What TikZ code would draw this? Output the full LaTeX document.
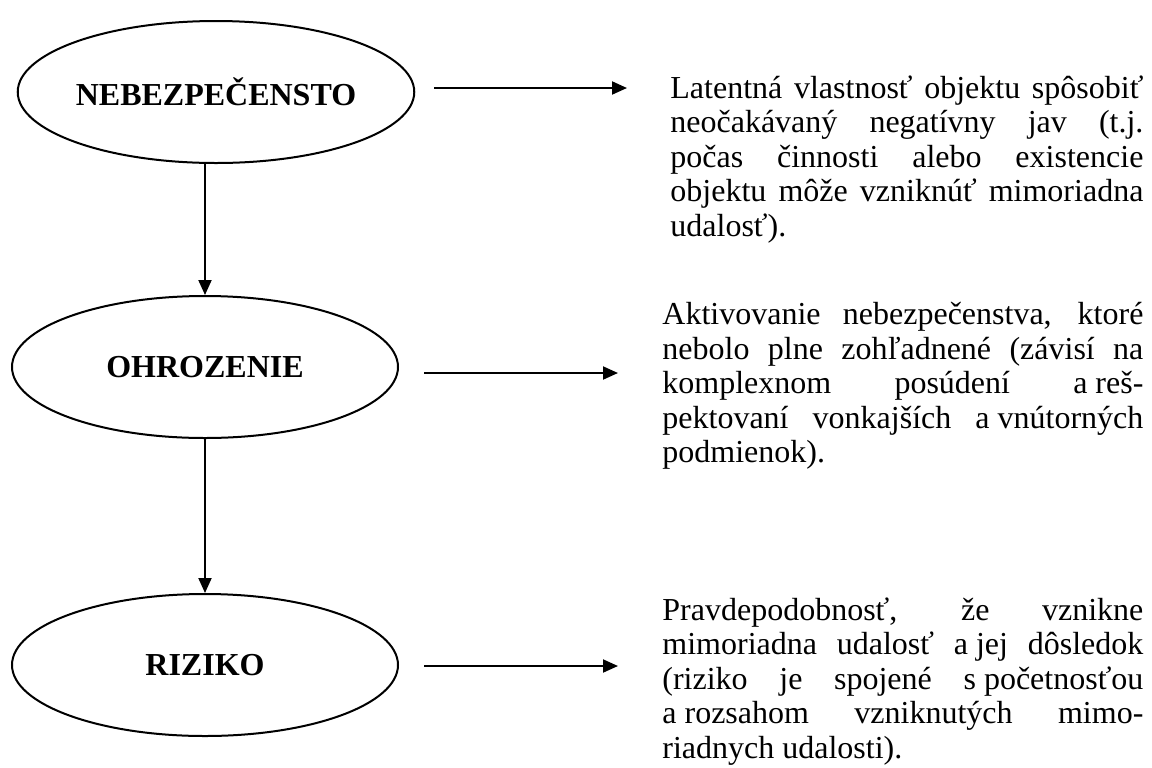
\documentclass[tikz,border=0pt]{standalone}
\usepackage{fontspec}
\setmainfont{Liberation Serif}
\usetikzlibrary{
    shapes.geometric,
    arrows.meta
}
\newcommand{\pevna}{\nobreak\hspace{.25em}}
\tolerance=10000
\hbadness=10000

\begin{document}
\begin{tikzpicture}[x=0.5pt, y=-0.5pt,
    pojem/.style={ellipse, draw, line width=1pt, minimum width=193pt, minimum height=71pt,
        inner sep=0pt, font=\fontsize{16}{17}\selectfont\bfseries},
    popis/.style={anchor=north west, inner sep=0pt, align=justify,
        font=\fontsize{16}{17.25}\selectfont},
    sipka/.style={line width=1pt, -{Triangle[length=7.5pt, width=6.5pt]}}]
                        \useasboundingbox (0,0) rectangle (1152,767);
                        \node[pojem] (neb) at (216, 92) {NEBEZPEČENSTO};
                        \node[pojem] (ohr) at (205, 367) {OHROZENIE};
                        \node[pojem] (riz) at (205, 665) {RIZIKO};
                        \draw[sipka] (ohr.north |- neb.south) -- (ohr.north);
                        \draw[sipka] (ohr.south) -- (riz.north);
                        \coordinate (z1) at (434, 88);
                        \coordinate (k1) at (627, 88);
                        \coordinate (z2) at (424, 373);
                        \coordinate (k2) at (618, 373);
                        \coordinate (z3) at (424, 666);
                        \coordinate (k3) at (618, 666);
                        \draw[sipka] (z1) -- (k1);
                        \draw[sipka] (z2) -- (k2);
                        \draw[sipka] (z3) -- (k3);
                        \node[popis, text width=236.5pt] (t1) at (670, 75) {Latentná vlastnosť objektu spôsobiť\linebreak
                            neočakávaný negatívny jav (t.j.\linebreak
                            počas činnosti alebo existencie\linebreak
                            objektu môže vzniknúť mimoriadna\linebreak
                            udalosť).};
                        \node[popis, text width=240.5pt] (t2) at (662, 302) {Aktivovanie nebezpečenstva, ktoré\linebreak
                            nebolo plne zohľadnené (závisí na\linebreak
                            komplexnom posúdení a\pevna reš-\linebreak
                            pektovaní vonkajších a\pevna vnútorných\linebreak
                            podmienok).};
                        \node[popis, text width=240.5pt] (t3) at (662, 597) {Pravdepodobnosť, že vznikne\linebreak
                            mimoriadna udalosť a\pevna jej dôsledok\linebreak
                            (riziko je spojené s\pevna početnosťou\linebreak
                            a\pevna rozsahom vzniknutých mimo-\linebreak
                            riadnych udalosti).};
                    \end{tikzpicture}
\end{document}
